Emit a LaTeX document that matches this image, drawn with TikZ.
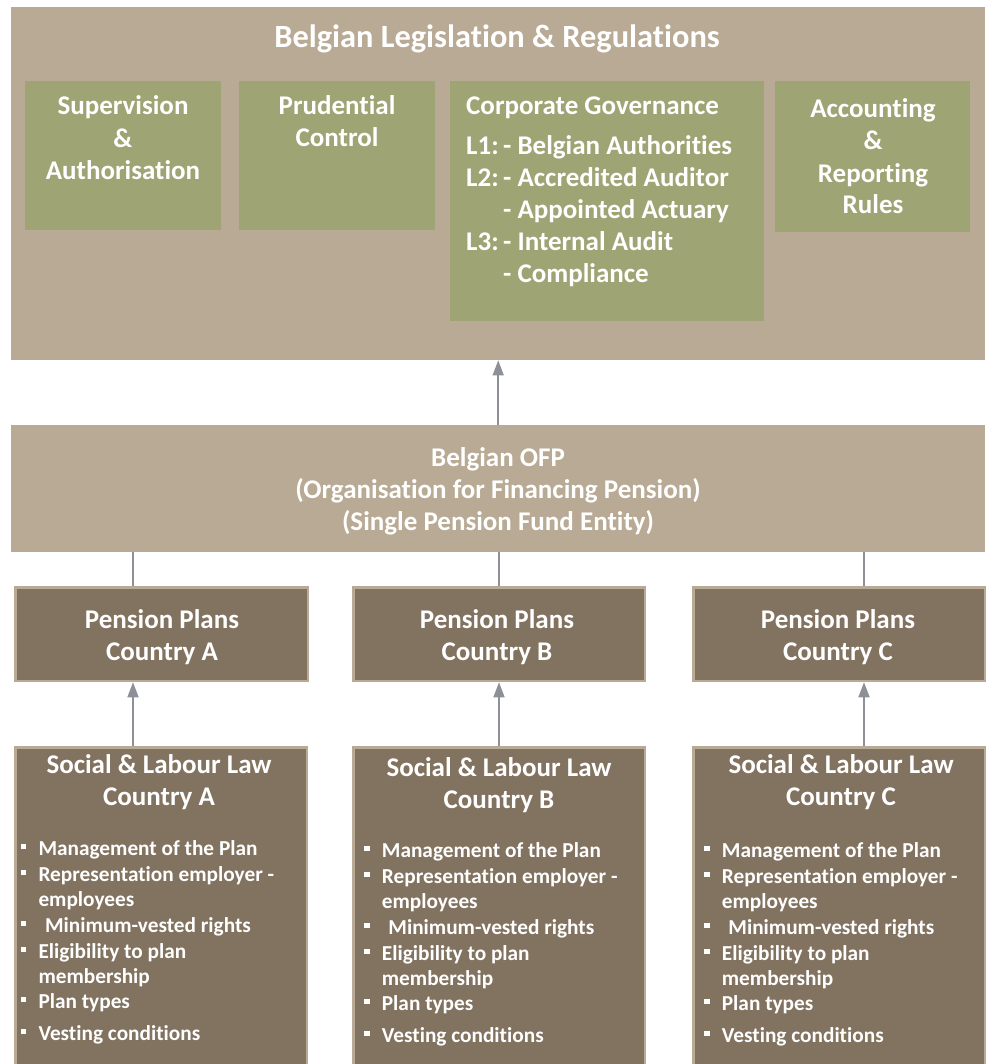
\documentclass[tikz,border=0pt]{standalone}
\usepackage{fontspec}
\setmainfont{Carlito}[Ligatures=NoCommon]
\usetikzlibrary{arrows.meta}

\definecolor{tanbox}{HTML}{B8AA94}
\definecolor{greenbox}{HTML}{9EA474}
\definecolor{brownbox}{HTML}{827260}
\definecolor{linkgray}{HTML}{8D9097}

\newcommand{\fbig}{\fontsize{32.4}{38}\selectfont}
\newcommand{\fmid}{\fontsize{27}{32}\selectfont}
\newcommand{\fsmall}{\fontsize{21.3}{26}\selectfont}
\newcommand{\bsq}{\raisebox{5.8pt}{\rule{5.4pt}{5.4pt}}}

\begin{document}
\begin{tikzpicture}[x=1pt,y=-1pt,
  panel/.style={fill=tanbox, draw=none, inner sep=0, anchor=north west},
  greenpanel/.style={fill=greenbox, draw=none, inner sep=0, anchor=north west},
  brownpanel/.style={fill=brownbox, draw=tanbox, line width=2.5pt, inner sep=0, anchor=north west},
  txt/.style={text=white, font=\bfseries\fmid, anchor=base, inner sep=0},
  ltxt/.style={text=white, font=\bfseries\fmid, anchor=base west, inner sep=0},
  btxt/.style={text=white, font=\bfseries\fsmall, anchor=base west, inner sep=0},
  link/.style={draw=linkgray, line width=1.5pt},
  uparrow/.style={link, -{Triangle[length=15pt,width=11pt]}}
]
\useasboundingbox (0,0) rectangle (992,1064);

% ---------- legislation block ----------
\node[panel, minimum width=974pt, minimum height=353pt] (leg) at (11,7) {};
\node[txt, font=\bfseries\fbig] (legtitle) at (497,48) {Belgian Legislation \& Regulations};

\node[greenpanel, minimum width=196pt, minimum height=149pt] (sup) at (25,81) {};
\node[txt] (sup1) at (123,115) {Supervision};
\node[txt] (sup2) at (123,147.5) {\&};
\node[txt] (sup3) at (123,180) {Authorisation};

\node[greenpanel, minimum width=196pt, minimum height=149pt] (pru) at (239,81) {};
\node[txt] (pru1) at (337,115) {Prudential};
\node[txt] (pru2) at (337,147) {Control};

\node[greenpanel, minimum width=314pt, minimum height=240pt] (gov) at (450,81) {};
\node[ltxt] (gov0) at (466,115) {Corporate Governance};
\node[ltxt] (gov1a) at (466,155) {L1:};
\node[ltxt] (gov1b) at (503,155) {- Belgian Authorities};
\node[ltxt] (gov2a) at (466,187) {L2:};
\node[ltxt] (gov2b) at (503,187) {- Accredited Auditor};
\node[ltxt] (gov3b) at (503,219) {- Appointed Actuary};
\node[ltxt] (gov4a) at (466,251) {L3:};
\node[ltxt] (gov4b) at (503,251) {- Internal Audit};
\node[ltxt] (gov5b) at (503,283) {- Compliance};

\node[greenpanel, minimum width=195pt, minimum height=151pt] (acc) at (775,81) {};
\node[txt] (acc1) at (873,118) {Accounting};
\node[txt] (acc2) at (873,150) {\&};
\node[txt] (acc3) at (873,183) {Reporting};
\node[txt] (acc4) at (873,214) {Rules};

% ---------- pension fund entity ----------
\node[panel, minimum width=974pt, minimum height=127pt] (ofp) at (11,425) {};
\node[txt] (ofp1) at (498,466) {Belgian OFP};
\node[txt] (ofp2) at (498,498) {(Organisation for Financing Pension)};
\node[txt] (ofp3) at (498,530) {(Single Pension Fund Entity)};

\draw[uparrow] (ofp.north) -- (leg.south);

% ---------- pension plans per country ----------
\node[brownpanel, minimum width=292.5pt, minimum height=93.5pt] (ppa) at (14.25,586.25) {};
\node[brownpanel, minimum width=291.5pt, minimum height=93.5pt] (ppb) at (352.25,586.25) {};
\node[brownpanel, minimum width=291.5pt, minimum height=93.5pt] (ppc) at (692.25,586.25) {};

\foreach \n/\x/\c in {ppa/162/A, ppb/497/B, ppc/838/C}{
  \node[txt] (\n-t1) at (\x,628) {Pension Plans};
  \node[txt] (\n-t2) at (\x,660) {Country \c};
}

% ---------- social & labour law per country ----------
\node[brownpanel, minimum width=291.5pt, minimum height=330pt] (sla) at (14.25,746.25) {};
\node[brownpanel, minimum width=291.5pt, minimum height=330pt] (slb) at (352.25,746.25) {};
\node[brownpanel, minimum width=291.5pt, minimum height=330pt] (slc) at (692.25,746.25) {};

\foreach \n/\x/\dy/\c in {sla/159/0/A, slb/499/3/B, slc/841/0/C}{
  \node[txt] (\n-t1) at (\x,773+\dy) {Social \& Labour Law};
  \node[txt] (\n-t2) at (\x,805+\dy) {Country \c};
}

\foreach \n/\x/\dy in {sla/38.3/0, slb/381.7/2, slc/721.7/2}{
  \node[btxt] (\n-b1) at (\x,855+\dy) {Management of the Plan};
  \node[btxt] (\n-b2) at (\x,881+\dy) {Representation employer -};
  \node[btxt] (\n-b3) at (\x,906.5+\dy) {employees};
  \node[btxt] (\n-b4) at (\x+6.5,932+\dy) {Minimum-vested rights};
  \node[btxt] (\n-b5) at (\x,958+\dy) {Eligibility to plan};
  \node[btxt] (\n-b6) at (\x,983+\dy) {membership};
  \node[btxt] (\n-b7) at (\x,1008+\dy) {Plan types};
  \node[btxt] (\n-b8) at (\x,1040+\dy) {Vesting conditions};
  \foreach \k/\yy in {1/855, 2/881, 4/932, 5/958, 7/1008, 8/1040}{
    \node[btxt, anchor=base east] (\n-m\k) at (\x-12,\yy+\dy) {\bsq};
  }
}

% ---------- connectors ----------
\coordinate (xa) at (133,0);
\coordinate (xb) at (499,0);
\coordinate (xc) at (864,0);

\foreach \p/\s/\xx in {ppa/sla/xa, ppb/slb/xb, ppc/slc/xc}{
  \draw[link] (ofp.south -| \xx) -- (\p.north -| \xx);
  \draw[uparrow] (\s.north -| \xx) -- (\p.south -| \xx);
}
\end{tikzpicture}
\end{document}
